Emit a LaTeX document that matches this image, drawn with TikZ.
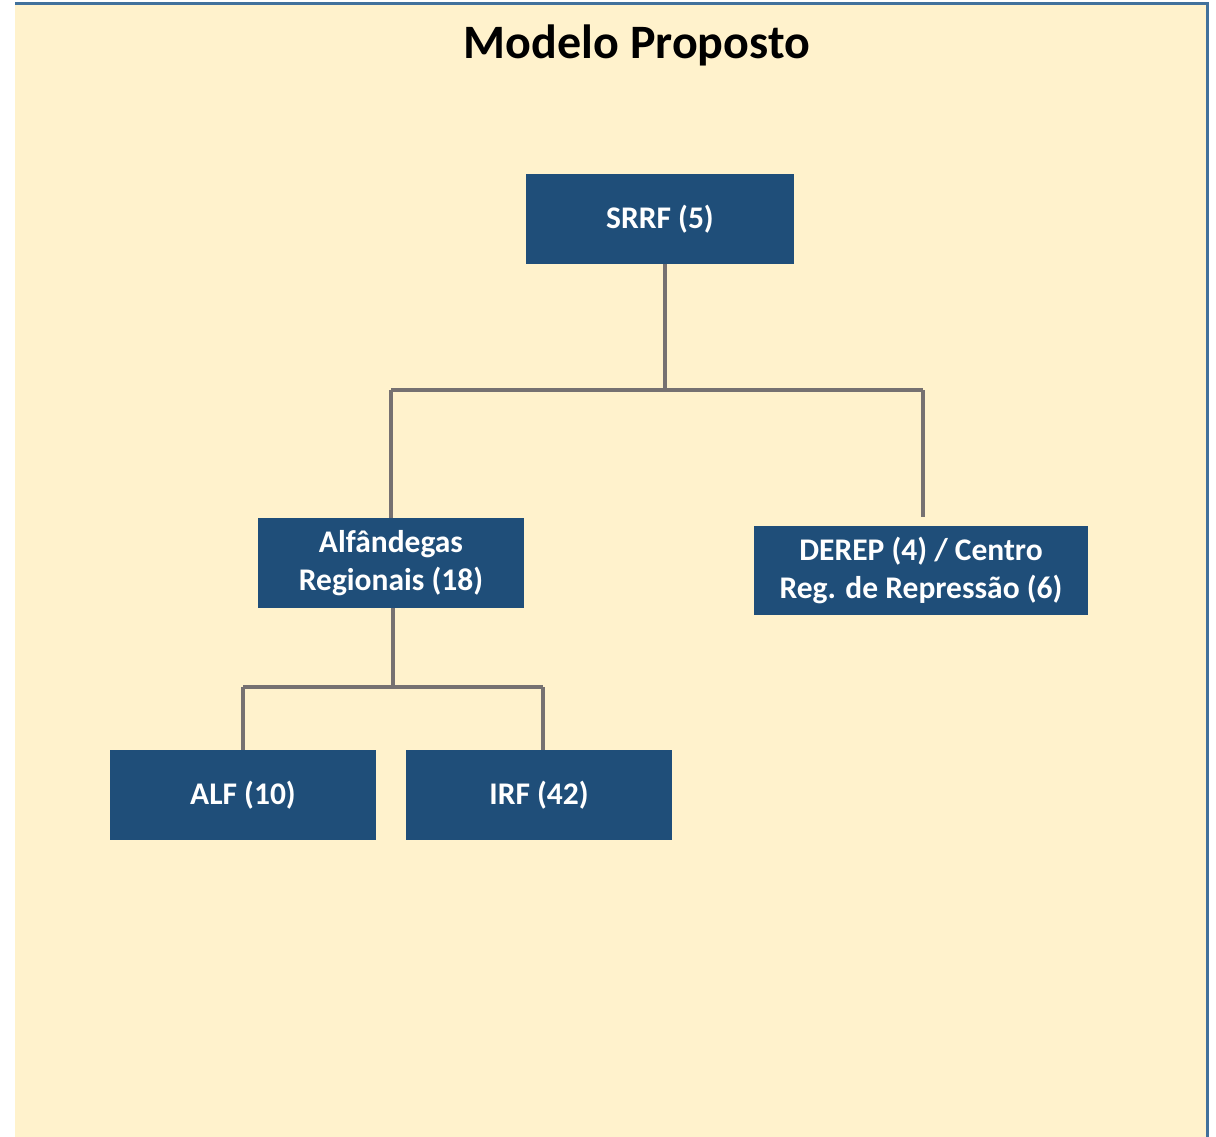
\documentclass[tikz,border=0pt]{standalone}
\usepackage{fontspec}
\setmainfont{Carlito}
\definecolor{bgfill}{HTML}{FFF2CC}
\definecolor{bgborder}{HTML}{41719C}
\definecolor{boxblue}{HTML}{1F4E79}
\definecolor{linkgray}{HTML}{767171}
\begin{document}
\begin{tikzpicture}[x=1pt,y=-1pt,
  orgbox/.style={fill=boxblue, draw=none, text=white, align=center,
    font=\fontsize{31.5}{38}\selectfont\bfseries, inner sep=0pt,
    minimum width=266pt, minimum height=90pt},
  link/.style={draw=linkgray, line width=4.5pt}]
\useasboundingbox (0,0) rectangle (1216,1136);
\draw[fill=bgfill, draw=bgborder, line width=3pt] (15,3) -- (1207,3) -- (1207,1150) -- (15,1150);
\path[fill=bgfill] (16.5,4.5) rectangle (1205.5,1140);
\node[font=\fontsize{48}{56}\selectfont\bfseries] (title) at (637,45) {Modelo Proposto};
\node[orgbox, minimum width=268pt] (srrf) at (660,219) {SRRF (5)};
\node[orgbox] (alfreg) at (391,563) {Alfândegas\\Regionais (18)};
\node[orgbox, minimum width=334pt, minimum height=89pt] (derep) at (921,570.5) {DEREP (4) / Centro\\Reg. de Repressão (6)};
\node[orgbox] (alf) at (243,795) {ALF (10)};
\node[orgbox] (irf) at (539,795) {IRF (42)};
\coordinate (j1) at (665,390);
\coordinate (jl) at (391,390);
\coordinate (jr) at (923,390);
\coordinate (rend) at (923,517);
\coordinate (j2) at (393,687);
\coordinate (kl) at (243,687);
\coordinate (kr) at (543,687);
\draw[link] (srrf.south -| j1) -- (j1);
\draw[link] (jl) -- (jr);
\draw[link] (jl) -- (alfreg.north -| jl);
\draw[link] (jr) -- (rend);
\draw[link] (alfreg.south -| j2) -- (j2);
\draw[link] (kl) -- (kr);
\draw[link] (kl) -- (alf.north -| kl);
\draw[link] (kr) -- (irf.north -| kr);
\end{tikzpicture}
\end{document}
